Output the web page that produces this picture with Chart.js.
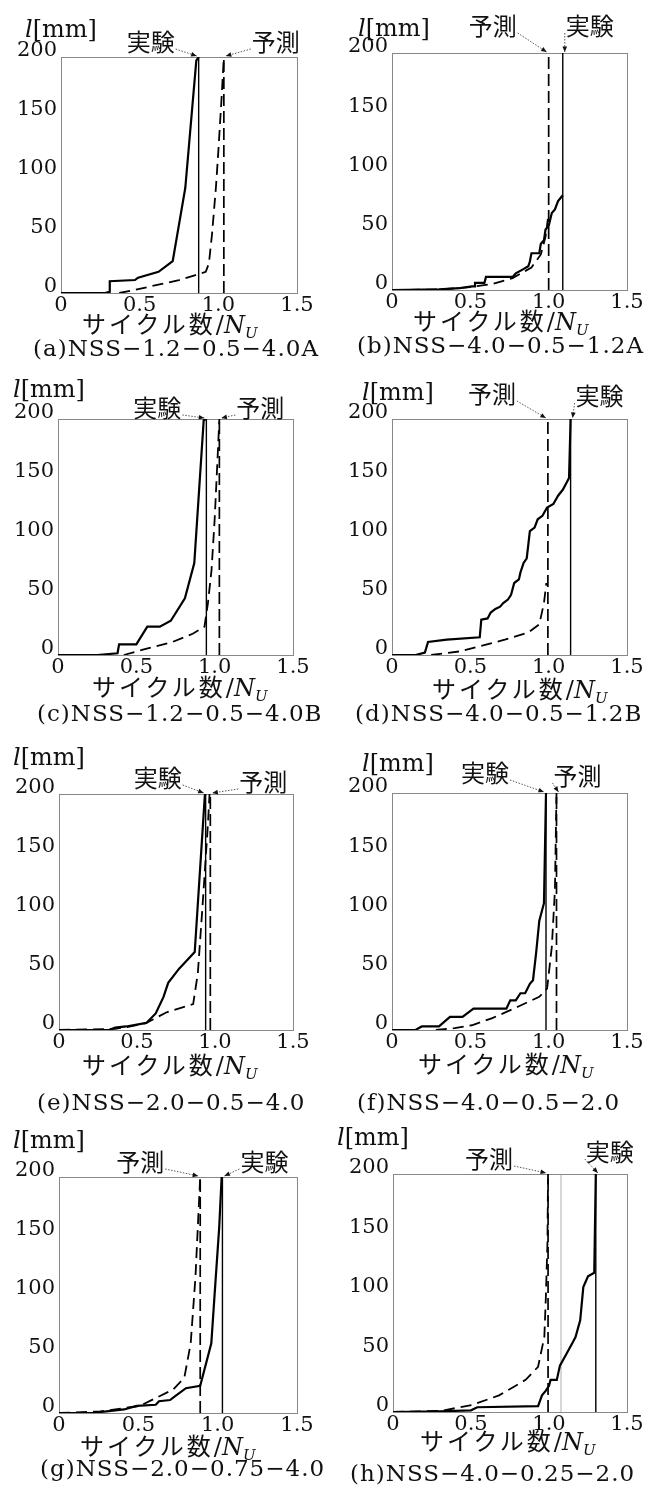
<!DOCTYPE html>
<html>
<head>
<meta charset="utf-8">
<title>き裂長さ 実験と予測</title>
<script src="https://cdn.jsdelivr.net/npm/chart.js@4.4.1/dist/chart.umd.min.js"></script>
<style>
  body { margin: 0; background: #fff; }
  #fig { position: relative; width: 651px; height: 1492px; overflow: hidden; }
  #fig canvas { position: absolute; }
  .lab { position: absolute; white-space: nowrap; color: #111; line-height: 1; transform: translateY(-50%); }
  .ylab { font: 24px "DejaVu Serif"; }
  .xlab { font: 24px "Noto Sans CJK JP"; letter-spacing: 3px; }
  .xlab .m { font-family: "DejaVu Serif"; letter-spacing: 0; }
  .xlab sub { font-size: 15px; vertical-align: -5px; }
  .cap { font: 23px "DejaVu Serif"; letter-spacing: 1px; }
</style>
</head>
<body>
<div id="fig"></div>
<script>
// tick values
const xTicks = [0, 0.5, 1, 1.5];
const yTicks = [0, 50, 100, 150, 200];

// panel captions
const captions = [
  '(a)NSS−1.2−0.5−4.0A', '(b)NSS−4.0−0.5−1.2A',
  '(c)NSS−1.2−0.5−4.0B', '(d)NSS−4.0−0.5−1.2B',
  '(e)NSS−2.0−0.5−4.0', '(f)NSS−4.0−0.5−2.0',
  '(g)NSS−2.0−0.75−4.0', '(h)NSS−4.0−0.25−2.0'
];

// crack length l[mm] vs cycles/N_U : experiment (実験) and prediction (予測)
const expA = [[0,0],[0.28,0],[0.31,1],[0.31,10],[0.47,11],[0.49,13],[0.62,18],[0.71,27],[0.79,89],[0.86,197],[0.875,200]];
const predA = [[0.37,0],[0.45,2],[0.55,5],[0.65,8],[0.75,11],[0.85,15],[0.92,18],[0.94,25],[0.96,50],[0.985,90],[1.0,120],[1.02,164],[1.035,200]];
const failA = [0.875, 1.035];

const expB = [[0,0],[0.3,0.5],[0.43,1.5],[0.51,3],[0.53,3],[0.53,6],[0.59,6],[0.6,11],[0.77,11],[0.79,14],[0.83,17],[0.87,20],[0.88,24],[0.89,31],[0.94,31],[0.95,39],[0.97,42],[0.98,51],[1.0,54],[1.02,65],[1.04,68],[1.06,75],[1.09,80]];
const predB = [[0,0],[0.3,0.5],[0.5,2.5],[0.64,5],[0.77,10],[0.89,19],[0.95,30],[0.98,45],[0.995,60]];
const failB = [1.09, 1.0];

const expC = [[0,0],[0.25,0],[0.38,1.5],[0.39,9],[0.5,9],[0.57,24],[0.65,24],[0.72,29],[0.81,48],[0.87,78],[0.93,199],[0.947,200]];
const predC = [[0.42,0],[0.5,3],[0.585,6],[0.73,11],[0.86,18],[0.935,24],[0.957,44],[0.98,72],[1.0,115],[1.02,171],[1.03,200]];
const failC = [0.947, 1.03];

const expD = [[0,0],[0.15,0],[0.21,2],[0.23,11],[0.35,13],[0.56,15],[0.57,30],[0.61,31],[0.63,36],[0.66,39],[0.69,41],[0.71,44],[0.74,47],[0.76,51],[0.78,61],[0.81,64],[0.82,70],[0.84,78],[0.86,82],[0.88,105],[0.91,108],[0.93,115],[0.96,118],[0.99,125],[1.03,128],[1.06,135],[1.09,140],[1.13,150],[1.14,200]];
const predD = [[0.25,0],[0.43,3],[0.55,7],[0.72,13],[0.87,19],[0.94,26],[0.97,44],[0.985,61]];
const failD = [1.14, 0.995];

const expE = [[0,0],[0.32,0],[0.36,2],[0.43,3],[0.56,6],[0.62,14],[0.67,28],[0.7,40],[0.77,52],[0.87,66],[0.935,199],[0.94,200]];
const predE = [[0,0],[0.36,1],[0.46,3],[0.56,6],[0.69,15],[0.86,22],[0.89,48],[0.92,105],[0.955,175],[0.965,200]];
const failE = [0.94, 0.97];

const expF = [[0,0],[0.15,0],[0.19,3],[0.3,3],[0.37,11],[0.45,11],[0.52,18],[0.73,18],[0.755,25],[0.79,25],[0.82,31],[0.85,31],[0.88,39],[0.9,42],[0.92,65],[0.94,92],[0.97,107],[0.983,200]];
const predF = [[0.28,0],[0.4,1.5],[0.51,4],[0.64,10],[0.81,20],[0.94,28],[0.99,35],[1.02,70],[1.04,118],[1.05,200]];
const failF = [0.983, 1.05];

const expG = [[0,0],[0.21,0],[0.3,1.4],[0.41,3],[0.49,6],[0.61,7],[0.63,10],[0.7,11],[0.73,14],[0.8,21],[0.89,23],[0.96,59],[0.98,99],[1.01,158],[1.025,200]];
const predG = [[0,0],[0.26,1.4],[0.51,6],[0.72,20],[0.79,30],[0.83,59],[0.86,115],[0.88,172],[0.89,200]];
const failG = [1.03, 0.89];

const expH = [[0,0],[0.3,0.5],[0.5,1.4],[0.54,4],[0.93,5],[0.955,14],[0.98,18],[1.0,22],[1.01,27],[1.05,27],[1.07,39],[1.1,46],[1.15,58],[1.17,63],[1.2,77],[1.22,105],[1.25,114],[1.29,117],[1.3,200]];
const predH = [[0,0],[0.31,1],[0.51,6],[0.68,14],[0.85,27],[0.93,38],[0.97,63],[0.98,97],[0.99,142],[0.994,200]];
const failH = [1.3, 0.994];
const guideH = 1.077;

const series = [
  [expA, predA, failA], [expB, predB, failB], [expC, predC, failC], [expD, predD, failD],
  [expE, predE, failE], [expF, predF, failF], [expG, predG, failG], [expH, predH, failH]
];

// page layout: plot box [left, top, w, h], label anchors, note offsets (px)
const boxes = [
  {box:[61,57,236,236],  ylab:[25,29],    xlab:[82,323],   cap:[33,348],   notes:{exp:[-48,-15], pred:[52,-15]}},
  {box:[392,53,235,237], ylab:[358,28],   xlab:[413,320],  cap:[357,345],  notes:{exp:[27,-27],  pred:[-56,-27]}},
  {box:[58,419,235,236], ylab:[13,389],   xlab:[92,686],   cap:[37,713],   notes:{exp:[-49,-11], pred:[41,-11]}},
  {box:[392,419,235,236],ylab:[362,392],  xlab:[432,688],  cap:[355,713],  notes:{exp:[29,-23],  pred:[-56,-25]}},
  {box:[59,794,234,236], ylab:[13,757],   xlab:[82,1064],  cap:[37,1102],  notes:{exp:[-48,-16], pred:[53,-12]}},
  {box:[392,793,235,237],ylab:[362,763],  xlab:[418,1063], cap:[357,1102], notes:{exp:[-61,-20], pred:[21,-17]}},
  {box:[59,1177,238,236],ylab:[13,1140],  xlab:[80,1445],  cap:[40,1468],  notes:{exp:[42,-15],  pred:[-60,-15]}},
  {box:[393,1174,234,238],ylab:[337,1137],xlab:[420,1440], cap:[350,1473], notes:{exp:[14,-22],  pred:[-59,-15]}}
];

const notePlugin = {
  id: 'notes',
  afterDraw(chart) {
    const items = chart.options.plugins.notes.items;
    const {ctx, scales: {x, y}} = chart;
    ctx.save();
    ctx.font = '24px "Noto Sans CJK JP"';
    ctx.textAlign = 'center';
    ctx.textBaseline = 'middle';
    ctx.fillStyle = '#111';
    ctx.strokeStyle = '#444';
    items.forEach(n => {
      const tx = x.getPixelForValue(n.at), ty = y.getPixelForValue(200);
      const lx = tx + n.dx, ly = ty + n.dy;
      ctx.fillText(n.text, lx, ly);
      const sx = lx + (n.dx < 0 ? 25 : -25), sy = ly + 7;
      const ex = tx + (n.dx < 0 ? -2 : 2), ey = ty - 1;
      ctx.setLineDash([1.5, 1.5]);
      ctx.lineWidth = 0.9;
      ctx.beginPath(); ctx.moveTo(sx, sy); ctx.lineTo(ex, ey); ctx.stroke();
      const a = Math.atan2(ey - sy, ex - sx);
      ctx.setLineDash([]);
      ctx.beginPath();
      ctx.moveTo(ex, ey);
      ctx.lineTo(ex - 6 * Math.cos(a - 0.4), ey - 6 * Math.sin(a - 0.4));
      ctx.lineTo(ex - 6 * Math.cos(a + 0.4), ey - 6 * Math.sin(a + 0.4));
      ctx.closePath(); ctx.fill();
    });
    ctx.restore();
  }
};

const fig = document.getElementById('fig');
const tickFont = {family: '"DejaVu Serif"', size: 21};
const frame = {display: true, color: '#888', width: 1, dash: [1.5, 2.5]};

function addText(cls, html, left, cy) {
  const d = document.createElement('div');
  d.className = 'lab ' + cls;
  d.innerHTML = html;
  d.style.left = left + 'px';
  d.style.top = cy + 'px';
  fig.appendChild(d);
}

boxes.forEach((L, i) => {
  const [exp, pred, fail] = series[i];
  const [bl, bt, bw, bh] = L.box;
  const cl = bl > 300 ? 325 : 0, cw = bl > 300 ? 326 : 325;
  const above = 45, below = 30;
  const canvas = document.createElement('canvas');
  canvas.width = cw; canvas.height = above + bh + below;
  canvas.style.left = cl + 'px'; canvas.style.top = (bt - above) + 'px';
  fig.appendChild(canvas);

  const datasets = [
    {data: exp, borderColor: '#000', borderWidth: 2.2},
    {data: pred, borderColor: '#000', borderWidth: 1.8, borderDash: [11, 6]},
    {data: [[fail[0], 0], [fail[0], 200]], borderColor: '#000', borderWidth: 1.4},
    {data: [[fail[1], 0], [fail[1], 200]], borderColor: '#000', borderWidth: 1.7, borderDash: [12, 5]}
  ];
  if (i === 7) datasets.push({data: [[guideH, 0], [guideH, 200]], borderColor: '#999', borderWidth: 0.8});

  new Chart(canvas, {
    type: 'scatter',
    data: {datasets: datasets.map(d => Object.assign({showLine: true, pointRadius: 0, tension: 0, fill: false}, d))},
    options: {
      responsive: false,
      animation: false,
      events: [],
      layout: {padding: {top: above, left: 0, bottom: 0, right: cw - (bl - cl + bw)}},
      plugins: {
        legend: {display: false}, tooltip: {enabled: false},
        notes: {items: [
          {text: '実験', at: fail[0], dx: L.notes.exp[0], dy: L.notes.exp[1]},
          {text: '予測', at: fail[1], dx: L.notes.pred[0], dy: L.notes.pred[1]}
        ]}
      },
      scales: {
        x: {
          type: 'linear', position: 'bottom', min: 0, max: 1.5,
          afterBuildTicks: s => { s.ticks = xTicks.map(v => ({value: v})); },
          afterFit: s => { s.height = below; },
          ticks: {font: tickFont, color: '#111', padding: 0, maxRotation: 0, autoSkip: false},
          grid: {display: false, drawTicks: false},
          border: frame
        },
        y: {
          type: 'linear', position: 'left', min: 0, max: 200,
          afterBuildTicks: s => { s.ticks = yTicks.map(v => ({value: v})); },
          afterFit: s => { s.width = bl - cl; },
          ticks: {font: tickFont, color: '#111', padding: 4, labelOffset: -6, autoSkip: false},
          grid: {display: false, drawTicks: false},
          border: frame
        },
        x2: {
          type: 'linear', position: 'top', min: 0, max: 1.5,
          afterFit: s => { s.height = 0; },
          ticks: {display: false}, grid: {display: false, drawTicks: false}, border: frame
        },
        y2: {
          type: 'linear', position: 'right', min: 0, max: 200,
          afterFit: s => { s.width = 0; },
          ticks: {display: false}, grid: {display: false, drawTicks: false}, border: frame
        }
      }
    },
    plugins: [notePlugin]
  });

  addText('ylab', '<i>l</i>[mm]', L.ylab[0], L.ylab[1]);
  addText('xlab', 'サイクル数<span class="m">/<i>N</i><sub><i>U</i></sub></span>', L.xlab[0], L.xlab[1]);
  addText('cap', captions[i], L.cap[0], L.cap[1]);
});
</script>
</body>
</html>
